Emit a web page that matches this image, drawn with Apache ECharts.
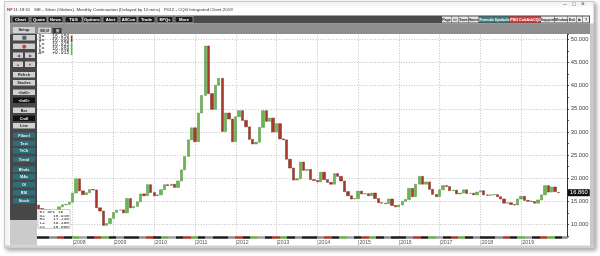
<!DOCTYPE html>
<html><head><meta charset="utf-8">
<script src="https://cdn.jsdelivr.net/npm/echarts@6/dist/echarts.min.js"></script>
<style>html,body{margin:0;padding:0;background:#fff;}#c{width:600px;height:256px;}</style>
</head><body><div id="c"></div>
<script>
// ---- DATA (monthly SIE silver continuation, Mar 2007 .. Dec 2019) ----
const startYear = 2007, startMonth = 3, monthCount = 156; // categories Mar 2007 .. Feb 2020
const yearLabels = ['2008','2009','2010','2011','2012','2013','2014','2015','2016','2017','2018','2019'];
const priceTicks = [10,15,20,25,30,35,40,45,50];
const lastPrice = 16.86;

const open = [
 14.20,13.45,13.25,13.15,12.45,12.90,12.25,13.80,14.25,14.35,
 14.80,16.80,19.85,17.25,16.45,16.85,17.55,17.45,13.60,12.90,9.80,10.20,
 11.30,12.60,13.10,13.15,12.50,15.60,13.60,13.90,14.90,16.60,16.20,18.60,
 16.90,16.20,16.40,17.50,18.60,18.40,18.70,18.00,19.40,21.80,24.70,28.30,
 30.90,27.90,34.10,37.90,48.60,38.30,34.90,40.10,41.60,30.10,34.10,32.80,
 27.90,33.30,34.60,32.50,31.10,28.40,27.40,27.80,31.00,34.60,32.30,33.00,
 30.00,31.80,28.50,28.30,24.10,22.20,19.60,19.90,23.50,21.70,21.90,19.70,
 19.50,19.20,21.30,19.70,19.10,18.70,21.00,20.40,19.40,17.10,16.20,15.50,
 15.60,17.20,16.60,16.65,16.20,16.80,15.60,14.70,14.60,14.50,15.50,14.10,
 13.80,14.20,15.00,15.40,17.80,16.00,18.70,20.40,18.70,19.20,17.60,16.50,
 16.00,17.50,18.40,18.20,17.30,17.40,16.60,16.80,17.50,16.70,16.75,16.40,
 17.00,17.30,16.40,16.30,16.40,16.45,16.00,15.50,14.60,14.70,14.30,14.20,
 15.50,16.10,15.20,15.00,14.95,14.60,15.30,16.40,18.40,17.00,18.10,16.915
];
const high = [
 14.40,14.10,13.90,13.55,13.30,13.00,13.95,14.45,15.85,15.10,
 17.00,20.00,21.40,17.95,17.60,17.80,19.40,17.50,14.40,13.00,10.90,11.40,
 12.70,14.60,14.10,13.30,15.70,16.30,14.20,15.00,17.40,18.00,19.20,19.30,
 19.00,16.50,17.70,19.00,19.90,19.30,18.80,19.60,22.00,25.00,29.30,31.00,
 31.00,34.30,38.20,49.80,48.70,39.40,40.40,44.30,43.20,35.70,35.40,33.30,
 34.00,37.50,35.40,33.00,31.20,29.00,28.20,31.30,35.40,34.60,34.70,33.50,
 32.50,32.30,29.40,28.40,24.90,22.90,20.50,25.10,25.00,23.10,22.00,20.20,
 20.60,22.20,21.90,20.40,19.40,21.30,21.60,20.60,19.60,17.60,16.80,17.30,
 18.50,17.40,17.30,16.80,17.80,16.90,15.80,15.70,15.30,16.40,15.50,14.50,
 14.60,15.60,16.00,17.90,17.90,18.90,21.20,20.60,20.10,19.20,18.90,17.20,
 17.60,18.60,18.50,18.60,17.60,17.80,17.00,17.90,18.20,17.50,17.40,17.20,
 17.70,17.35,16.80,17.40,16.80,17.30,16.10,15.60,14.90,14.90,14.60,15.60,
 16.20,16.20,15.40,15.20,15.00,15.50,16.60,18.60,19.60,18.30,18.10,17.24
];
const low = [
 12.85,13.15,12.80,12.40,12.40,11.20,12.15,13.10,13.70,13.70,
 14.70,16.30,16.70,16.20,16.05,16.10,17.40,12.50,10.40,8.40,8.90,9.40,
 10.50,12.50,12.00,11.70,12.30,13.30,12.40,13.60,14.80,16.00,16.10,16.60,
 16.00,14.60,16.30,17.30,17.00,17.50,17.40,17.60,19.30,21.30,24.20,26.50,
 26.40,27.90,32.70,37.70,32.30,33.10,34.00,37.90,26.10,29.50,30.70,26.10,
 27.60,33.00,31.60,30.40,26.10,26.10,26.00,27.00,30.90,31.10,31.30,29.10,
 29.90,28.00,27.90,22.00,21.20,18.20,18.70,19.80,20.70,20.90,19.20,18.80,
 19.10,19.10,19.50,18.80,18.70,18.70,20.30,19.20,16.90,15.80,14.20,15.20,
 15.60,15.80,15.30,15.70,15.80,15.50,14.30,13.90,14.20,14.50,13.90,13.60,
 13.60,14.10,14.80,15.40,15.90,15.90,18.60,18.60,18.60,16.80,16.00,15.70,
 15.90,17.30,16.80,17.20,16.20,16.30,15.20,16.20,16.60,16.60,16.30,15.60,
 16.90,16.10,16.10,16.20,16.00,15.90,15.40,14.30,13.90,14.20,13.90,14.10,
 15.30,15.10,14.90,14.60,14.30,14.30,15.00,16.10,16.90,16.90,16.80,16.465
];
const close = [
 13.35,13.25,13.15,12.45,12.90,12.25,13.80,14.25,14.35,14.80,
 16.80,19.85,17.25,16.45,16.85,17.55,17.45,13.60,12.90,9.80,10.20,11.30,
 12.60,13.10,13.15,12.50,15.60,13.60,13.90,14.90,16.60,16.20,18.60,16.90,
 16.20,16.40,17.50,18.60,18.40,18.70,18.00,19.40,21.80,24.70,28.30,30.90,
 27.90,34.10,37.90,48.60,38.30,34.90,40.10,41.60,30.10,34.10,32.80,27.90,
 33.30,34.60,32.50,31.10,28.40,27.40,27.80,31.00,34.60,32.30,33.00,30.00,
 31.80,28.50,28.30,24.10,22.20,19.60,19.90,23.50,21.70,21.90,19.70,19.50,
 19.20,21.30,19.70,19.10,18.70,21.00,20.40,19.40,17.10,16.20,15.50,15.60,
 17.20,16.60,16.65,16.20,16.80,15.60,14.70,14.60,14.50,15.50,14.10,13.80,
 14.20,15.00,15.40,17.80,16.00,18.70,20.40,18.70,19.20,17.60,16.50,16.00,
 17.50,18.40,18.20,17.30,17.40,16.60,16.80,17.50,16.70,16.75,16.40,17.00,
 17.30,16.40,16.30,16.40,16.45,16.00,15.50,14.60,14.70,14.30,14.20,15.50,
 16.10,15.20,15.00,14.95,14.60,15.30,16.40,18.40,17.00,18.10,17.10,16.86
];

// ---- categories ----
const months = [];
for (let i = 0; i < monthCount; i++) {
  const m = startMonth - 1 + i;
  const y = startYear + Math.floor(m / 12);
  months.push(y + '-' + String(m % 12 + 1).padStart(2, '0'));
}
const yearMonths = yearLabels.map(y => y + '-01');

const wickData = open.map((_, i) => [low[i], high[i], low[i], high[i]]);
const bodyData = open.map((o, i) => [o, close[i], Math.min(o, close[i]), Math.max(o, close[i])]);

// ---- chrome (platform window) ----
const FONT = 'Liberation Sans, Arial, sans-serif';
const MONO = 'Liberation Mono, DejaVu Sans Mono, monospace';
const els = [];
function rect(x, y, w, h, fill, z, stroke, lw, extra) {
  const st = Object.assign({ fill: fill, stroke: stroke || null, lineWidth: lw || 0 }, extra || {});
  els.push({ type: 'rect', silent: true, z: z, shape: { x: x, y: y, width: w, height: h }, style: st });
}
function text(x, y, t, size, color, o) {
  o = o || {};
  els.push({ type: 'text', silent: true, z: o.z || 60, x: x, y: y,
    style: { text: t, fill: color, fontSize: size, fontFamily: o.family || FONT,
      fontWeight: o.weight || 'normal', align: o.align || 'left', verticalAlign: 'middle' } });
}
function btn(x, y, w, h, label, bg, fg, o) {
  o = o || {};
  rect(x, y, w, h, bg, o.z || 55, o.stroke || null, o.lw || 0);
  text(x + w / 2, y + h / 2 + 0.2, label, o.size || 4, fg, { align: 'center', weight: 'bold', z: (o.z || 55) + 1 });
}

// window frame + shadow
rect(4.5, 1.5, 589.5, 246.5, '#ffffff', 0, '#bdbdbd', 0.8,
  { shadowBlur: 4, shadowColor: 'rgba(0,0,0,0.35)', shadowOffsetX: 2, shadowOffsetY: 2 });
// title bar
text(7, 10, 'NF', 4.4, '#c0392b', { weight: 'bold' });
text(13.5, 10, '11:18:51   SIE - Silver (Globex), Monthly Continuation (Delayed by 10 mins)   P012 - CQG Integrated Client 2019', 4.4, '#333');
text(565, 4.5, '\u2013', 6, '#444', { align: 'center' });
text(574, 4.5, '\u25a1', 5.5, '#444', { align: 'center' });
text(583, 4.5, '\u00d7', 6.5, '#444', { align: 'center' });
// toolbar
rect(10, 15.5, 580, 8, '#4b4b4b', 50);
[['Chart',12,17],['Quote',31,16],['News',48,15],['T&S',65,17],['Options',83,18],['Alert',103,15],
 ['AllCon',120,17],['Trade',138,17],['EFQs',157,16],['More',175,18]].forEach(b =>
  btn(b[1], 16.3, b[2], 6.4, b[0], '#1e1e1e', '#ffffff', { stroke: '#cfcfcf', lw: 0.6, size: 4.2 }));
const rbtns = [['Page',9,'#e4e4e4','#222'],['>>',7,'#e4e4e4','#222'],['Save',9,'#e4e4e4','#222'],['Home',10,'#e4e4e4','#222'],
 ['Formula',15,'#3d7f83','#fff'],['Symbols',15,'#3d7f83','#fff'],['PNG Calc',17,'#e03a3a','#fff'],['AskCQG',13,'#e03a3a','#fff'],
 ['Support',13,'#ececec','#222'],['Window',13,'#ececec','#222'],['Exit',8,'#ececec','#222'],['\u29c9',6,'#ececec','#222'],['?',6,'#ececec','#222']];
let rx = 442;
rbtns.forEach(b => { btn(rx, 16.5, b[1], 6, b[0], b[2], b[3], { size: 3.6 }); rx += b[1] + 0.5; });
// grey setup bar
rect(10, 23.5, 580, 10.5, '#8e8e8e', 50);
btn(13, 27, 22, 6, 'Setup', '#d2d2d2', '#222', { size: 4 });
btn(38, 27.5, 13, 6, 'SIE,M', '#cfcfcf', '#333', { size: 3.4 });
btn(52.5, 28, 9, 5.5, '\u229e', '#3a3a3a', '#ddd', { size: 4 });
// left tool panel
rect(10, 34, 27, 186, '#474747', 50);
rect(10, 220, 27, 25.5, '#cbcbcb', 50);
btn(13, 35, 22, 5.5, '\u25a6', '#d0d0d0', '#555', { size: 5 });
btn(13, 43.5, 22, 5.5, '\u25c9', '#d0d0d0', '#c33', { size: 5 });
btn(13, 52.5, 10, 5.5, '\u25c0', '#d0d0d0', '#9b3a98', { size: 4 });
btn(25, 52.5, 10, 5.5, '\u25b6', '#d0d0d0', '#9b3a98', { size: 4 });
btn(13, 61.5, 10, 5.5, '\u25b2', '#d0d0d0', '#9b3a98', { size: 4 });
btn(25, 61.5, 10, 5.5, '\u25bc', '#d0d0d0', '#9b3a98', { size: 4 });
const lb = [['Refrsh',72,'L'],['Studies',80,'L'],['<Int0>',89.5,'L'],['<Int0>',97.5,'D'],['Bar',107.5,'L'],['Cndl',115.5,'D'],['Line',123,'L'],
 ['Fibonl',132.5,'T'],['Text',140.5,'T'],['TrCh',148,'T'],['Trend',156.5,'T'],['Blnds',166.5,'T'],['MAs',174,'T'],['OI',182,'T'],['RSI',190,'T'],['Stoch',198,'T']];
lb.forEach(b => {
  const bg = b[2] === 'L' ? '#d2d2d2' : (b[2] === 'D' ? '#111111' : '#2f6e78');
  const fg = b[2] === 'L' ? '#222' : '#eef6f7';
  btn(13, b[1], 22, 5.5, b[0], bg, fg, { size: 3.8 });
});
// right border & bottom border
rect(590, 23.5, 4, 224.5, '#c9c9c9', 50);
rect(5, 245.5, 589, 2.5, '#cfcfcf', 50);
// top-left quote box
const qLab = ['O=', 'H=', 'L=', 'C=', '\u0394='];
const qVal = ['16.850', '16.880', '16.825', '16.860', '+0.015'];
qLab.forEach((l, i) => {
  text(38.5, 36.8 + i * 4, l, 4.8, '#222', { family: MONO, z: 101 });
  text(69.5, 36.8 + i * 4, qVal[i], 4.8, '#222', { family: MONO, align: 'right', z: 101 });
});
rect(70.8, 35.5, 1.6, 6.5, '#a63a2c', 101);
rect(70.8, 42.5, 1.6, 12.5, '#6cb650', 101);
// bottom-left date box
rect(38, 209.5, 32, 19, '#ffffff', 100, '#9a9a9a', 0.5);
const bLab = ['02 Dec 19', 'O=', 'H=', 'L=', 'C='];
const bVal = ['', '16.915', '17.240', '16.465', '16.860'];
bLab.forEach((l, i) => {
  text(39.5, 211.8 + i * 3.7, l, 4.4, '#222', { family: MONO, z: 101 });
  if (bVal[i]) text(69, 211.8 + i * 3.7, bVal[i], 4.4, '#222', { family: MONO, align: 'right', z: 101 });
});

// x-axis session strip colours
const stripColors = ['#1c1c1c','#1c1c1c','#8c8c8c','#a9382c','#1c1c1c','#6aa94c','#a0a0a0','#1c1c1c','#a9382c','#6aa94c','#1c1c1c','#8c8c8c'];
const nSeg = 72, stops = [];
for (let i = 0; i < nSeg; i++) {
  const c = stripColors[i % stripColors.length];
  stops.push({ offset: i / nSeg, color: c }, { offset: (i + 1) / nSeg, color: c });
}

const chart = echarts.init(document.getElementById('c'), null, { renderer: 'canvas' });
chart.setOption({
  backgroundColor: '#ffffff',
  animation: false,
  textStyle: { fontFamily: FONT },
  graphic: { elements: els },
  grid: { left: 37, right: 33, top: 34, bottom: 20 },
  xAxis: {
    type: 'category', data: months, boundaryGap: true, offset: 1.5,
    axisLine: { show: true, lineStyle: { width: 2.5, color: new echarts.graphic.LinearGradient(0, 0, 1, 0, stops) } },
    axisTick: { show: false },
    splitLine: { show: false },
    axisLabel: {
      interval: (i, v) => v.endsWith('-01') && yearLabels.includes(v.slice(0, 4)),
      formatter: v => '|' + v.slice(0, 4),
      fontSize: 5.2, color: '#555', align: 'left', margin: 2.5
    }
  },
  yAxis: {
    type: 'value', position: 'right', min: 7.5, max: 51.19, interval: 2.5, scale: true,
    axisLine: { show: true, lineStyle: { color: '#222', width: 1 } },
    axisTick: { show: true, length: 2, lineStyle: { color: '#333', width: 0.8 } },
    minorTick: { show: true, splitNumber: 5, length: 1, lineStyle: { color: '#555', width: 0.6 } },
    splitLine: { show: false },
    axisLabel: { fontSize: 5.8, color: '#444', margin: 3.7,
      formatter: v => (Math.abs(v % 5) < 1e-6 ? v.toFixed(3) : '') }
  },
  series: [
    {
      type: 'candlestick', name: 'wick', data: wickData, barWidth: 1,
      itemStyle: { color: '#a3a3a3', color0: '#a3a3a3', borderColor: '#a3a3a3', borderColor0: '#a3a3a3', borderWidth: 0 },
      markLine: {
        z: 1, silent: true, symbol: 'none', animation: false,
        label: { show: false },
        lineStyle: { color: '#b4b4b4', type: [1, 1.6], width: 0.8 },
        emphasis: { disabled: true },
        data: priceTicks.map(v => ({ yAxis: v })).concat(yearMonths.map(m => ({ xAxis: m })))
      }
    },
    {
      type: 'candlestick', name: 'SIE', data: bodyData, barWidth: 2.8,
      itemStyle: { color: '#6cb650', color0: '#a63a2c', borderColor: '#4f8f3c', borderColor0: '#7a2a20', borderWidth: 0.5 },
      markLine: {
        z: 10, silent: true, symbol: 'none', animation: false,
        lineStyle: { color: 'rgba(0,0,0,0)', width: 0 },
        label: { show: true, position: 'end', distance: 1, formatter: () => lastPrice.toFixed(3),
          backgroundColor: '#111', color: '#fff', fontSize: 5.8, padding: [0.5, 2, 0.5, 2], lineHeight: 6 },
        data: [{ yAxis: lastPrice }]
      }
    }
  ]
});
</script></body></html>
